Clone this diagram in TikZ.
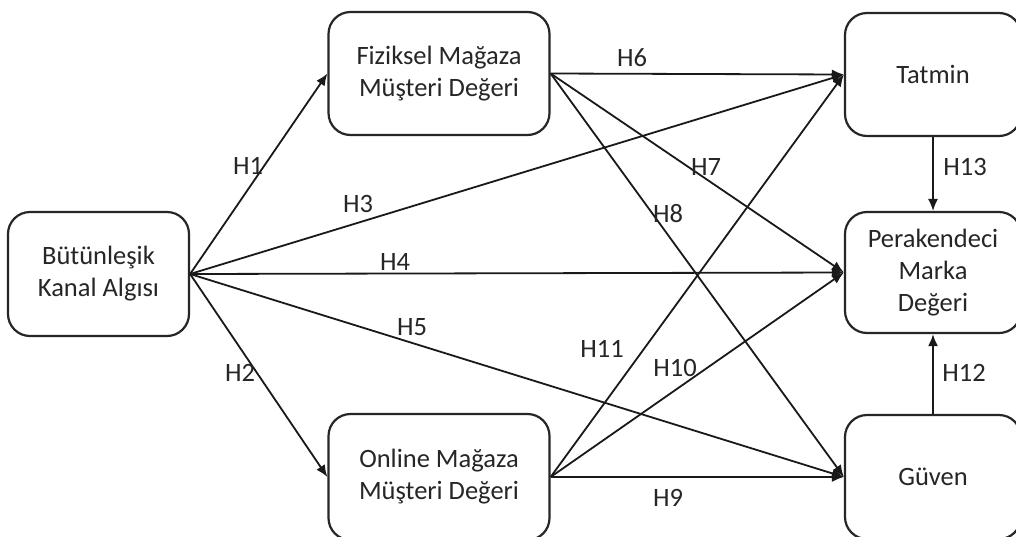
\documentclass[tikz,border=0pt]{standalone}
\usepackage{fontspec}
\setmainfont{Carlito}
\usetikzlibrary{arrows.meta}
\begin{document}
\begin{tikzpicture}[x=1pt,y=-1pt,
  box/.style={draw=black!85,line width=2.2pt,rounded corners=22pt,align=center,
    inner sep=0pt,text=black!85,font=\fontsize{26.5}{32}\selectfont},
  link/.style={line width=1.8pt,draw=black!90,-{Latex[length=12pt,width=10pt]}},
  hlab/.style={text=black!85,font=\fontsize{26.5}{32}\selectfont,inner sep=0pt}]
\useasboundingbox (0,0) rectangle (1016,536);
\clip (0,0) rectangle (1016,536);
\fill[white] (0,0) rectangle (1016,536);

% constructs
\node[box,minimum width=181pt,minimum height=124pt] (bka) at (98.5,274) {Bütünleşik\\Kanal Algısı};
\node[box,minimum width=221pt,minimum height=123pt] (fmd) at (439,73.5) {Fiziksel Mağaza\\Müşteri Değeri};
\node[box,minimum width=221pt,minimum height=126pt] (omd) at (439,477) {Online Mağaza\\Müşteri Değeri};
\node[box,minimum width=176pt,minimum height=123pt] (tat) at (933,74.5) {Tatmin};
\node[box,minimum width=176pt,minimum height=121pt] (pmd) at (933,272.5) {Perakendeci\\Marka\\Değeri};
\node[box,minimum width=176pt,minimum height=124pt] (guv) at (933,477) {Güven};

% hypothesised paths
\draw[link] (bka.east) -- (fmd.west);
\draw[link] (bka.east) -- (omd.west);
\draw[link] (bka.east) -- (tat.west);
\draw[link] (bka.east) -- (pmd.west);
\draw[link] (bka.east) -- (guv.west);
\draw[link] (fmd.east) -- (tat.west);
\draw[link] (fmd.east) -- (pmd.west);
\draw[link] (fmd.east) -- (guv.west);
\draw[link] (omd.east) -- (guv.west);
\draw[link] (omd.east) -- (pmd.west);
\draw[link] (omd.east) -- (tat.west);
\draw[link,line width=1.4pt] (tat.south) -- (pmd.north);
\draw[link] (guv.north) -- (pmd.south);

% path labels
\node[hlab] (h1) at (248,166) {H1};
\node[hlab] (h2) at (240,373) {H2};
\node[hlab] (h3) at (358,204) {H3};
\node[hlab] (h4) at (395,262) {H4};
\node[hlab] (h5) at (412,327) {H5};
\node[hlab] (h6) at (632,58) {H6};
\node[hlab] (h7) at (706,167) {H7};
\node[hlab] (h8) at (668,214) {H8};
\node[hlab] (h9) at (668,498) {H9};
\node[hlab] (h10) at (675,368) {H10};
\node[hlab] (h11) at (602,349) {H11};
\node[hlab] (h12) at (964,373) {H12};
\node[hlab] (h13) at (965,167) {H13};
\end{tikzpicture}
\end{document}
